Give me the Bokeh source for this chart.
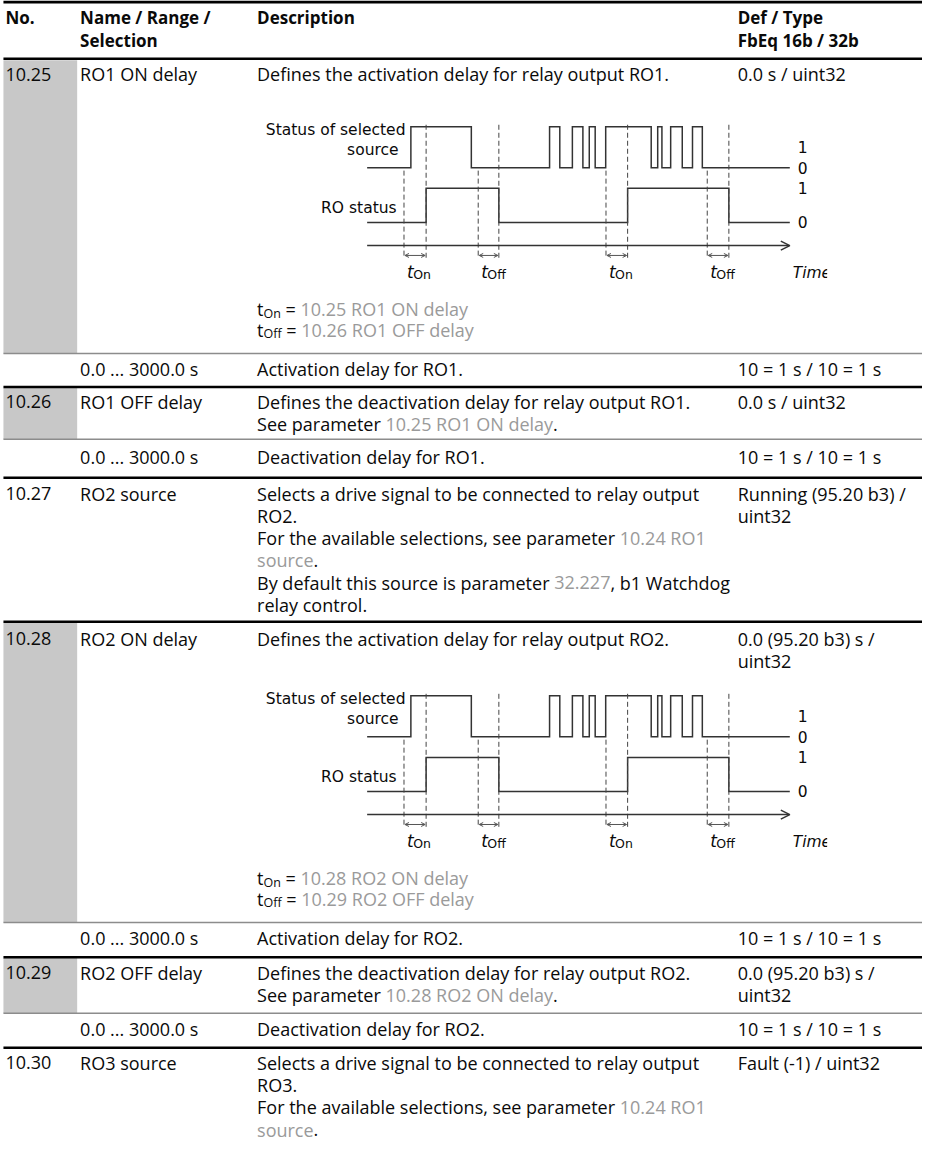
import subprocess
from bokeh.plotting import figure
from bokeh.models import Range1d, ColumnDataSource, Arrow, OpenHead
from bokeh.core.properties import value
from bokeh.embed import file_html
from bokeh.resources import INLINE

# ---------------- table content ----------------
HEADER_NO = ["No."]
HEADER_NAME = ["Name / Range /", "Selection"]
HEADER_DESC = ["Description"]
HEADER_DEF = ["Def / Type", "FbEq 16b / 32b"]

PARAM_NO = ["10.25", "10.26", "10.27", "10.28", "10.29", "10.30"]
PARAM_NAME = ["RO1 ON delay", "RO1 OFF delay", "RO2 source",
              "RO2 ON delay", "RO2 OFF delay", "RO3 source"]
PARAM_DEF = [["0.0 s / uint32"], ["0.0 s / uint32"],
             ["Running (95.20 b3) /", "uint32"],
             ["0.0 (95.20 b3) s /", "uint32"],
             ["0.0 (95.20 b3) s /", "uint32"],
             ["Fault (-1) / uint32"]]
PARAM_DESC = [
    [[("Defines the activation delay for relay output RO1.", "k")]],
    [[("Defines the deactivation delay for relay output RO1.", "k")],
     [("See parameter ", "k"), ("10.25 RO1 ON delay", "g"), (".", "k")]],
    [[("Selects a drive signal to be connected to relay output", "k")],
     [("RO2.", "k")],
     [("For the available selections, see parameter ", "k"), ("10.24 RO1", "g")],
     [("source", "g"), (".", "k")],
     [("By default this source is parameter ", "k"), ("32.227", "g"), (", b1 Watchdog", "k")],
     [("relay control.", "k")]],
    [[("Defines the activation delay for relay output RO2.", "k")]],
    [[("Defines the deactivation delay for relay output RO2.", "k")],
     [("See parameter ", "k"), ("10.28 RO2 ON delay", "g"), (".", "k")]],
    [[("Selects a drive signal to be connected to relay output", "k")],
     [("RO3.", "k")],
     [("For the available selections, see parameter ", "k"), ("10.24 RO1", "g")],
     [("source", "g"), (".", "k")]],
]
PARAM_SHADED = [True, True, False, True, True, False]
RANGE_TEXT = ["0.0 ... 3000.0 s", "0.0 ... 3000.0 s", None,
              "0.0 ... 3000.0 s", "0.0 ... 3000.0 s", None]
RANGE_DESC = ["Activation delay for RO1.", "Deactivation delay for RO1.", None,
              "Activation delay for RO2.", "Deactivation delay for RO2.", None]
RANGE_FBEQ = ["10 = 1 s / 10 = 1 s", "10 = 1 s / 10 = 1 s", None,
              "10 = 1 s / 10 = 1 s", "10 = 1 s / 10 = 1 s", None]
DELAY_REFS = [("10.25 RO1 ON delay", "10.26 RO1 OFF delay"), None, None,
              ("10.28 RO2 ON delay", "10.29 RO2 OFF delay"), None, None]

# ---------------- timing diagram data (time units) ----------------
SRC_EDGES = [44.5, 106, 185.6, 196, 208.8, 219.5, 226, 232, 242.7, 289,
             295.6, 299.9, 308.8, 320.6, 331, 341]
RO_EDGES = [60, 134, 265, 368]
DELAY_KIND = ["On", "Off", "On", "Off"]
DELAY_FROM = [37.5, 113, 243, 346]
DELAY_TO = [60, 134, 265, 368]
TIME_END = 430
LEVEL_LABELS = ["1", "0", "1", "0"]
SIGNAL_NAMES = [["Status of selected", "source"], ["RO status"]]
AXIS_LABEL = "Time"

# ---------------- layout (page pixels) ----------------
PAGE_W, PAGE_H = 938, 1161
FIG_W, FIG_H = 922, 1145
SX = PAGE_W / FIG_W
SY = PAGE_H / FIG_H
COL_X = [5, 81, 261, 750]
HEADER_Y = [17, 41]
ROW_Y = [75, 407, 500, 647, 986, 1077]
RANGE_Y = [374, 463, None, 951, 1043, None]
LINE_STEP = 22.6
TOP_RULE = 1.5
THICK_RULES = [59, 392, 484, 630, 970, 1062]
THIN_RULES = [358, 445, 935, 1027]
SHADE_SPANS = [(60.5, 358), (393, 445), None, (631, 935), (971, 1027), None]
SHADE_X = (3, 78)
DIAG_DY = {0: 0, 3: 577}
DIAG_X0 = 373
SRC_HI, SRC_LO, RO_HI, RO_LO = 128, 169.5, 190.5, 225
AXIS_Y, ARROW_Y, TLABEL_Y = 248.5, 258.5, 275
LEVEL_Y = [149, 169.5, 190.5, 225]
NAME_Y = [[131, 152], [210]]
NAME_RIGHT = [[412, 405], [403]]
REF_Y = [313, 334]
TIME_CLIP_X = 841

BODY_FONT = "Open Sans"
BODY_SIZE = 18
HEAD_SIZE = 17
DIAG_FONT = "DejaVu Sans"
DIAG_SIZE = 15.5
BLACK = "#0a0a0a"
LINK = "#9a9a9a"
COLORS = {"k": BLACK, "g": LINK}

# ---------------- text measuring ----------------
_fonts = {}


def measure(txt, size, family=BODY_FONT, style="normal"):
    key = (family, style, size)
    if key not in _fonts:
        f = None
        try:
            from PIL import ImageFont
            pat = family + {"normal": "", "bold": ":bold", "italic": ":italic"}[style]
            path = subprocess.run(["fc-match", "-f", "%{file}", pat], capture_output=True,
                                  text=True, timeout=10).stdout.strip()
            if path:
                try:
                    f = ImageFont.truetype(path, size)
                except Exception:
                    f = ImageFont.truetype(path, int(round(size)))
        except Exception:
            f = None
        _fonts[key] = f
    f = _fonts[key]
    if f is not None:
        try:
            return f.getlength(txt)
        except Exception:
            pass
    w = 0
    for ch in txt:
        w += 0.26 if ch == " " else (0.27 if ch in ".,:;il1|" else 0.56)
    return w * size


texts = {}


def add_text(x, y, s, color=BLACK, size=BODY_SIZE, font=BODY_FONT, style="normal", align="left"):
    d = texts.setdefault((font, style, align), dict(x=[], y=[], text=[], color=[], size=[]))
    d["x"].append(x)
    d["y"].append(y)
    d["text"].append(s)
    d["color"].append(color)
    d["size"].append(f"{size}px")


def add_runs(x, y, runs, size=BODY_SIZE):
    for run in runs:
        txt, kind = run[0], run[1]
        rsize = run[2] if len(run) > 2 else size
        dy = run[3] if len(run) > 3 else 0
        body = txt.lstrip(" ")
        lead = txt[:len(txt) - len(body)]
        if lead:
            x += measure(lead, rsize) * SX
        if body.strip():
            add_text(x, y + dy * SY, body, COLORS[kind], rsize)
        x += measure(body, rsize) * SX


# ---------------- figure ----------------
p = figure(width=FIG_W, height=FIG_H, x_range=Range1d(0, PAGE_W), y_range=Range1d(PAGE_H, 0),
           output_backend="svg", toolbar_location=None, min_border=0,
           x_axis_type=None, y_axis_type=None)
p.grid.visible = False
p.outline_line_color = None
p.background_fill_color = "white"
p.border_fill_color = "white"

# shaded number cells
sh = [s for s, on in zip(SHADE_SPANS, PARAM_SHADED) if on and s is not None]
p.quad(left=[SHADE_X[0]] * len(sh), right=[SHADE_X[1]] * len(sh),
       top=[s[0] for s in sh], bottom=[s[1] for s in sh],
       fill_color="#c8c8c8", line_color=None)

# rules
p.segment(x0=[3], y0=[TOP_RULE], x1=[PAGE_W], y1=[TOP_RULE], line_color="#000000", line_width=3)
p.segment(x0=[3] * len(THICK_RULES), y0=THICK_RULES, x1=[PAGE_W] * len(THICK_RULES),
          y1=THICK_RULES, line_color="#000000", line_width=2.5)
p.segment(x0=[3] * len(THIN_RULES), y0=THIN_RULES, x1=[PAGE_W] * len(THIN_RULES),
          y1=THIN_RULES, line_color="#8c8c8c", line_width=1.5)

# header
for col, lines in zip(COL_X, [HEADER_NO, HEADER_NAME, HEADER_DESC, HEADER_DEF]):
    for i, s in enumerate(lines):
        add_text(col, HEADER_Y[i], s, BLACK, HEAD_SIZE, BODY_FONT, "bold")

# parameter rows
for r in range(len(PARAM_NO)):
    y0 = ROW_Y[r]
    add_text(COL_X[0], y0, PARAM_NO[r])
    add_text(COL_X[1], y0, PARAM_NAME[r])
    for i, runs in enumerate(PARAM_DESC[r]):
        add_runs(COL_X[2], y0 + i * LINE_STEP, runs)
    for i, s in enumerate(PARAM_DEF[r]):
        add_text(COL_X[3], y0 + i * LINE_STEP, s)
    if RANGE_Y[r] is not None:
        add_text(COL_X[1], RANGE_Y[r], RANGE_TEXT[r])
        add_text(COL_X[2], RANGE_Y[r], RANGE_DESC[r])
        add_text(COL_X[3], RANGE_Y[r], RANGE_FBEQ[r])


def step_xy(edges, lo, hi, t_end):
    xs, ys, cur = [0], [lo], lo
    for e in edges:
        nxt = hi if cur == lo else lo
        xs += [e, e]
        ys += [cur, nxt]
        cur = nxt
    xs.append(t_end)
    ys.append(cur)
    return [DIAG_X0 + x for x in xs], ys


# timing diagrams
for r, dy in DIAG_DY.items():
    sx, sy = step_xy(SRC_EDGES, SRC_LO + dy, SRC_HI + dy, TIME_END)
    p.line(sx, sy, line_color="#333333", line_width=1.5, line_join="miter")
    rx, ry = step_xy(RO_EDGES, RO_LO + dy, RO_HI + dy, TIME_END)
    p.line(rx, ry, line_color="#333333", line_width=1.5, line_join="miter")

    # time axis
    p.add_layout(Arrow(end=OpenHead(size=9, line_color="#333333", line_width=1.5),
                       x_start=DIAG_X0, y_start=AXIS_Y + dy,
                       x_end=DIAG_X0 + TIME_END, y_end=AXIS_Y + dy,
                       line_color="#333333", line_width=1.5))

    # dashed delay markers
    xs0 = [DIAG_X0 + t for t in DELAY_FROM] + [DIAG_X0 + t for t in DELAY_TO]
    ys0 = [SRC_LO + dy + 3] * len(DELAY_FROM) + [SRC_HI + dy - 2] * len(DELAY_TO)
    ys1 = [ARROW_Y + dy + 3] * (len(DELAY_FROM) + len(DELAY_TO))
    p.segment(x0=xs0, y0=ys0, x1=xs0, y1=ys1, line_color="#444444", line_width=1,
              line_dash="5 3")

    # delay arrows
    asrc = ColumnDataSource(dict(xs=[DIAG_X0 + t + 1 for t in DELAY_FROM],
                                 xe=[DIAG_X0 + t - 1 for t in DELAY_TO],
                                 y=[ARROW_Y + dy] * len(DELAY_FROM)))
    p.add_layout(Arrow(start=OpenHead(size=4, line_color="#555555", line_width=1),
                       end=OpenHead(size=4, line_color="#555555", line_width=1),
                       x_start="xs", y_start="y", x_end="xe", y_end="y", source=asrc,
                       line_color="#555555", line_width=1))

    # t labels
    for kind, t0 in zip(DELAY_KIND, DELAY_FROM):
        xl = DIAG_X0 + t0 + 3
        add_text(xl, TLABEL_Y + dy, "t", BLACK, 17, DIAG_FONT, "italic")
        add_text(xl + measure("t", 17, DIAG_FONT, "italic") * SX - 0.5, TLABEL_Y + dy + 3,
                 kind, BLACK, 12.5, DIAG_FONT)

    # signal names
    for names, ys, xr in zip(SIGNAL_NAMES, NAME_Y, NAME_RIGHT):
        for s, yy, xx in zip(names, ys, xr):
            add_text(xx, yy + dy, s, BLACK, DIAG_SIZE, DIAG_FONT, "normal", "right")

    # level labels
    for s, yy in zip(LEVEL_LABELS, LEVEL_Y):
        add_text(DIAG_X0 + TIME_END + 8, yy + dy, s, BLACK, DIAG_SIZE, DIAG_FONT)
    add_text(DIAG_X0 + TIME_END + 3, TLABEL_Y + dy + 1, AXIS_LABEL, BLACK, DIAG_SIZE,
             DIAG_FONT, "italic")

    # delay references below the diagram
    refs = DELAY_REFS[r]
    for kind, ref, yy in zip(DELAY_KIND[:2], refs, REF_Y):
        add_runs(COL_X[2], yy + dy, [("t", "k"), (kind, "k", 12.5, 4), (" =", "k"),
                                     (" " + ref, "g")])

# draw texts
for (font, style, align), d in texts.items():
    p.text(x="x", y="y", text="text", source=ColumnDataSource(d),
           text_font=value(font), text_font_style=style, text_align=align,
           text_baseline="middle", text_color="color", text_font_size="size")

# the original diagram picture cuts its "Time" label at its right edge
clip_tops = [TLABEL_Y + dy - 10 for dy in DIAG_DY.values()]
p.quad(left=[TIME_CLIP_X] * len(clip_tops), right=[TIME_CLIP_X + 12] * len(clip_tops),
       top=clip_tops, bottom=[t + 22 for t in clip_tops], fill_color="white", line_color=None)

open("out.html", "w").write(file_html(p, INLINE))
